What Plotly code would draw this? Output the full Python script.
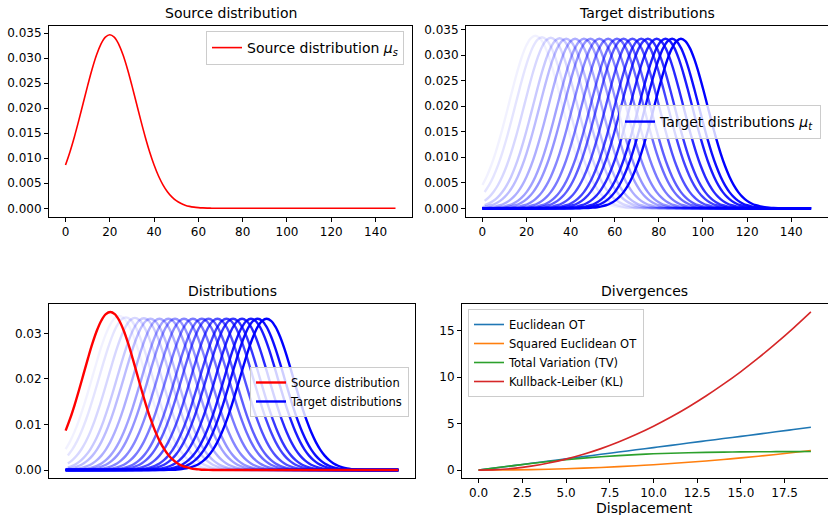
import plotly.graph_objects as go

W, H = 828, 515

# ---------------- data ----------------
# relative shape of every distribution, for offsets 0,2,...,60 from its mean (mirrored for negative offsets)
profile_offsets = list(range(0, 62, 2))
profile_values = [1.0, 0.9862, 0.9460, 0.8825, 0.8007, 0.7066, 0.6065, 0.5063, 0.4111, 0.3247,
                  0.2494, 0.1863, 0.1353, 0.0956, 0.0657, 0.0439, 0.0286, 0.0181, 0.0111, 0.0066,
                  0.0039, 0.0022, 0.0012, 0.00064, 0.00034, 0.00017, 0.00008, 0.00004, 0.00002,
                  0.00001, 0.0]
x_min, x_max = 0, 149

source_mean = 20
source_peak = 0.0347

target_means = [20, 24, 27, 31, 35, 38, 42, 46, 49, 53, 57, 61, 64, 68, 72, 75, 79, 83, 86, 90]
target_peaks = [0.0347, 0.0338, 0.0335, 0.0334, 0.0333, 0.0332, 0.0332, 0.0332, 0.0332, 0.0332,
                0.0332, 0.0332, 0.0332, 0.0332, 0.0332, 0.0332, 0.0332, 0.0332, 0.0332, 0.0332]
target_alpha = [i / 19 for i in range(20)]

displacement = list(range(20))
euclid_ot = [0, 0.24, 0.48, 0.73, 0.97, 1.21, 1.45, 1.70, 1.94, 2.18, 2.42, 2.66, 2.91, 3.15, 3.39,
             3.63, 3.87, 4.12, 4.36, 4.60]
sq_euclid_ot = [0, 0.006, 0.023, 0.052, 0.093, 0.145, 0.209, 0.285, 0.372, 0.471, 0.582, 0.704,
                0.838, 0.983, 1.140, 1.309, 1.489, 1.681, 1.885, 2.100]
tv = [0, 0.244, 0.482, 0.710, 0.922, 1.114, 1.286, 1.435, 1.561, 1.666, 1.750, 1.817, 1.869,
      1.908, 1.937, 1.957, 1.972, 1.982, 1.989, 1.993]
kl = [0, 0.047, 0.189, 0.424, 0.754, 1.178, 1.697, 2.309, 3.016, 3.817, 4.713, 5.703, 6.787,
      7.965, 9.238, 10.60, 12.06, 13.62, 15.27, 17.01]

div_names = ["Euclidean OT", "Squared Euclidean OT", "Total Variation (TV)", "Kullback-Leiber (KL)"]
div_values = [euclid_ot, sq_euclid_ot, tv, kl]
div_colors = ["#1f77b4", "#ff7f0e", "#2ca02c", "#d62728"]


def curve(mean, peak):
    offs = [-o for o in profile_offsets[::-1]] + profile_offsets[1:]
    vals = profile_values[::-1] + profile_values[1:]
    xs, ys = [], []
    for o, v in zip(offs, vals):
        x = mean + o
        if x_min <= x <= x_max:
            xs.append(x)
            ys.append(v * peak)
    if xs[0] > x_min and ys[0] == 0:
        xs.insert(0, x_min); ys.insert(0, 0.0)
    if xs[-1] < x_max:
        xs.append(x_max); ys.append(0.0)
    return xs, ys


fig = go.Figure()

# ---- top-left: source ----
sx, sy = curve(source_mean, source_peak)
fig.add_trace(go.Scatter(x=sx, y=sy, mode="lines", line=dict(color="red", width=1.6, shape="spline"),
                         name="Source distribution <i>μ</i><sub><i>s</i></sub>", showlegend=True,
                         xaxis="x", yaxis="y", legend="legend"))

# ---- top-right: targets ----
for i, (m, p, a) in enumerate(zip(target_means, target_peaks, target_alpha)):
    tx, ty = curve(m, p)
    fig.add_trace(go.Scatter(x=tx, y=ty, mode="lines",
                             line=dict(color=f"rgba(0,0,255,{a:.3f})", width=2.4, shape="spline"),
                             name="Target distributions <i>μ</i><sub><i>t</i></sub>",
                             showlegend=(i == len(target_means) - 1),
                             xaxis="x2", yaxis="y2", legend="legend2"))

# ---- bottom-left: both ----
for i, (m, p, a) in enumerate(zip(target_means, target_peaks, target_alpha)):
    tx, ty = curve(m, p)
    fig.add_trace(go.Scatter(x=tx, y=ty, mode="lines",
                             line=dict(color=f"rgba(0,0,255,{a:.3f})", width=2.4, shape="spline"),
                             name="Target distributions", legendrank=2,
                             showlegend=(i == len(target_means) - 1),
                             xaxis="x3", yaxis="y3", legend="legend3"))
fig.add_trace(go.Scatter(x=sx, y=sy, mode="lines", line=dict(color="red", width=2.4, shape="spline"),
                         name="Source distribution", legendrank=1,
                         xaxis="x3", yaxis="y3", legend="legend3"))

# ---- bottom-right: divergences ----
for n, v, c in zip(div_names, div_values, div_colors):
    fig.add_trace(go.Scatter(x=displacement, y=v, mode="lines", line=dict(color=c, width=1.6, shape="spline"),
                             name=n, xaxis="x4", yaxis="y4", legend="legend4"))


def px_x(v):
    return v / W


def px_y(v):
    return (H - v) / H


dom = {
    1: ([49, 412], [26, 217]),
    2: ([466, 827.5], [26, 217]),
    3: ([49, 415], [304, 478]),
    4: ([462, 827.5], [304, 478]),
}

tick_font = dict(family="DejaVu Sans", size=12, color="black")
axis_common = dict(showline=True, linecolor="black", linewidth=1, mirror=True, showgrid=False,
                   zeroline=False, ticks="outside", ticklen=4, tickwidth=1, tickcolor="black",
                   tickfont=tick_font, automargin=False)

layout = dict(width=W, height=H, margin=dict(l=0, r=0, t=0, b=0, autoexpand=False), plot_bgcolor="white",
              paper_bgcolor="white", font=dict(family="DejaVu Sans", color="black"), showlegend=True)

dist_ticks = [0, 20, 40, 60, 80, 100, 120, 140]
top_yticks = [0, 0.005, 0.01, 0.015, 0.02, 0.025, 0.03, 0.035]

for k, (dx, dy) in dom.items():
    xa = "xaxis" if k == 1 else f"xaxis{k}"
    ya = "yaxis" if k == 1 else f"yaxis{k}"
    xd = [px_x(dx[0]), px_x(dx[1])]
    yd = [px_y(dy[1]), px_y(dy[0])]
    xaxis = dict(axis_common, domain=xd, anchor="y" if k == 1 else f"y{k}")
    yaxis = dict(axis_common, domain=yd, anchor="x" if k == 1 else f"x{k}")
    if k in (1, 2, 3):
        xaxis.update(range=[-7.45, 156.45], tickvals=dist_ticks)
    if k == 1:
        yaxis.update(range=[-0.00174, 0.03644], tickvals=top_yticks, tickformat=".3f")
    if k == 2:
        yaxis.update(range=[-0.0017, 0.0357], tickvals=top_yticks, tickformat=".3f")
    if k == 3:
        xaxis.update(showticklabels=False, ticks="")
        yaxis.update(range=[-0.00174, 0.03644], tickvals=[0, 0.01, 0.02, 0.03], tickformat=".2f")
    if k == 4:
        xaxis.update(range=[-0.95, 19.95], tickvals=[0, 2.5, 5, 7.5, 10, 12.5, 15, 17.5], tickformat=".1f")
        yaxis.update(range=[-0.85, 17.86], tickvals=[0, 5, 10, 15])
    layout[xa] = xaxis
    layout[ya] = yaxis

leg_common = dict(bgcolor="rgba(255,255,255,0.8)", bordercolor="#cccccc", borderwidth=1,
                  tracegroupgap=0)
layout["legend"] = dict(leg_common, x=px_x(404), y=px_y(31), xanchor="right", yanchor="top",
                        font=dict(family="DejaVu Sans", size=14, color="black"))
layout["legend2"] = dict(leg_common, x=px_x(821), y=px_y(105), xanchor="right", yanchor="top",
                         font=dict(family="DejaVu Sans", size=14, color="black"))
layout["legend3"] = dict(leg_common, x=px_x(409), y=px_y(367), xanchor="right", yanchor="top",
                         font=dict(family="DejaVu Sans", size=11.5, color="black"))
layout["legend4"] = dict(leg_common, x=px_x(468), y=px_y(309), xanchor="left", yanchor="top",
                         font=dict(family="DejaVu Sans", size=11.5, color="black"))

titles = ["Source distribution", "Target distributions", "Distributions", "Divergences"]
annotations = []
for k, t in zip(range(1, 5), titles):
    dx, dy = dom[k]
    annotations.append(dict(text=t, x=px_x((dx[0] + dx[1]) / 2), y=px_y(dy[0] - 3), xref="paper",
                            yref="paper", xanchor="center", yanchor="bottom", showarrow=False,
                            font=dict(family="DejaVu Sans", size=14, color="black")))
annotations.append(dict(text="Displacement", x=px_x((462 + 827.5) / 2), y=px_y(508), xref="paper",
                        yref="paper", xanchor="center", yanchor="middle", showarrow=False,
                        font=dict(family="DejaVu Sans", size=14, color="black")))
layout["annotations"] = annotations

fig.update_layout(**layout)
fig.write_html("out.html", config={"displayModeBar": False},
               post_script="document.body.style.margin='0';")
